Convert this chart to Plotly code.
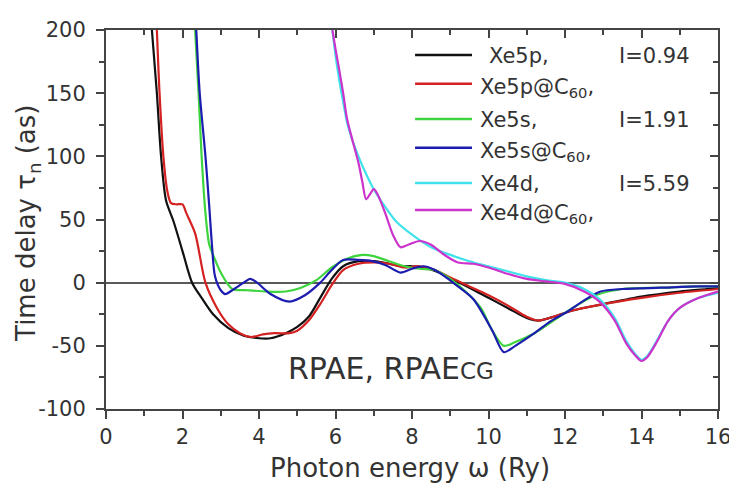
import plotly.graph_objects as go

# ---------------- data ----------------
x_xe5p = [1.2, 1.33, 1.44, 1.57, 1.76, 2.0, 2.25, 2.5, 2.8, 3.2, 3.6, 4.0, 4.3, 4.7, 5.0, 5.3, 5.6, 5.9,
          6.2, 6.6, 7.0, 7.4, 7.7, 8.0, 8.3, 8.7, 9.1, 9.5, 10.0, 10.5, 11.0, 11.3, 11.7, 12.2, 13.0,
          14.0, 15.0, 15.7, 16.0]
y_xe5p = [200, 150, 100, 65, 49, 25, 0, -12, -25, -36, -42, -44, -44, -40, -35, -27, -12, 3,
          13, 17, 17, 15, 13, 13, 12, 8, 2, -4, -12, -20, -28, -30, -27, -22, -17,
          -11, -7, -5, -4]

x_xe5p_c60 = [1.33, 1.4, 1.5, 1.6, 1.7, 1.85, 2.0, 2.1, 2.33, 2.6, 2.9, 3.2, 3.5, 3.8, 4.1, 4.4, 4.8,
              5.0, 5.3, 5.6, 5.9, 6.2, 6.6, 7.0, 7.4, 7.8, 8.2, 8.6, 9.0, 9.5, 10.0, 10.5, 11.0,
              11.3, 11.7, 12.2, 13.0, 14.0, 15.0, 16.0]
y_xe5p_c60 = [200, 150, 100, 73, 63, 62, 62, 55, 39, 0, -20, -33, -40, -43, -41, -40, -40,
              -38, -30, -17, -2, 10, 15, 16, 15, 12, 13, 10, 4, -3, -10, -18, -27,
              -30, -27, -22, -17, -12, -8, -5]

x_xe5s = [2.33, 2.42, 2.5, 2.6, 2.7, 2.8, 3.0, 3.3, 3.7, 4.2, 4.7, 5.1, 5.5, 5.9, 6.3, 6.7, 7.0,
          7.4, 7.8, 8.2, 8.6, 9.0, 9.4, 9.8, 10.1, 10.4, 10.7, 11.2, 11.7, 12.2, 12.8, 13.5,
          14.5, 15.5, 16.0]
y_xe5s = [200, 150, 100, 55, 30, 22, 8, -5, -6, -7, -7, -4, 2, 12, 19, 22, 21,
          17, 13, 11, 10, 3, -7, -20, -38, -50, -47, -40, -30, -20, -10, -5,
          -4, -3, -3]

x_xe5s_c60 = [2.36, 2.45, 2.6, 2.7, 2.77, 2.85, 3.0, 3.12, 3.3, 3.6, 3.77, 3.95, 4.3, 4.8, 5.2, 5.6,
              5.9, 6.2, 6.6, 6.95, 7.3, 7.7, 8.0, 8.3, 8.6, 8.9, 9.2, 9.6, 10.1, 10.4, 10.7,
              11.2, 11.6, 12.06, 12.5, 12.93, 13.5, 14.5, 15.5, 16.0]
y_xe5s_c60 = [200, 150, 100, 60, 30, 5, -6, -9, -6, 0, 3, 0, -9, -15, -10, 0,
              10, 18, 18, 17, 14, 8, 11, 13, 10, 4, -3, -13, -38, -55, -50,
              -40, -31, -23, -14, -7, -5, -4, -3, -3]

x_xe4d = [5.92, 6.0, 6.1, 6.2, 6.3, 6.45, 6.6, 6.8, 7.0, 7.3, 7.6, 8.0, 8.5, 9.0, 9.5, 10.0, 10.5,
          11.0, 11.5, 12.0, 12.5, 12.9, 13.3, 13.6, 13.85, 14.0, 14.15, 14.4, 14.7, 15.0, 15.5, 16.0]
y_xe4d = [200, 180, 160, 143, 127, 112, 100, 86, 74, 60, 48, 38, 28, 22, 17, 13, 9,
          5, 2, 0, -5, -13, -28, -46, -57, -61, -58, -46, -30, -20, -12, -8]

x_xe4d_c60 = [5.92, 6.0, 6.1, 6.2, 6.3, 6.45, 6.6, 6.7, 6.8, 6.9, 7.0, 7.1, 7.3, 7.5, 7.7, 7.9, 8.2,
              8.5, 8.8, 9.2, 9.6, 10.0, 10.5, 11.0, 11.5, 12.0, 12.5, 12.9, 13.3, 13.6, 13.85,
              14.0, 14.15, 14.4, 14.7, 15.0, 15.5, 16.0]
y_xe4d_c60 = [200, 185, 168, 150, 130, 112, 95, 80, 66, 70, 74, 70, 55, 38, 28, 30, 33,
              30, 23, 16, 15, 12, 7, 3, 1, -1, -7, -15, -30, -48, -58,
              -62, -59, -47, -30, -20, -12, -7]

series_names = ["Xe5p,", "Xe5p@C<sub>60</sub>,", "Xe5s,", "Xe5s@C<sub>60</sub>,",
                "Xe4d,", "Xe4d@C<sub>60</sub>,"]
ion_labels = ["I=0.94", "", "I=1.91", "", "I=5.59", ""]
series_x = [x_xe5p, x_xe5p_c60, x_xe5s, x_xe5s_c60, x_xe4d, x_xe4d_c60]
series_y = [y_xe5p, y_xe5p_c60, y_xe5s, y_xe5s_c60, y_xe4d, y_xe4d_c60]
colors = ["#111111", "#d42222", "#3ed43e", "#1c1cb0", "#3fe2ea", "#cc33cc"]

x_ticks = [0, 2, 4, 6, 8, 10, 12, 14, 16]
x_ticktext = ["0", "2", "4", "6", "8", "10", "12", "14", "16"]
y_ticks = [-100, -50, 0, 50, 100, 150, 200]
y_ticktext = ["-100", "-50", "0", "50", "100", "150", "200"]

FONT = "DejaVu Sans"
TXT = "#333333"
AX = "#444444"

fig = go.Figure()
for xs, ys, c in zip(series_x, series_y, colors):
    fig.add_trace(go.Scatter(x=xs, y=ys, mode="lines",
                             line=dict(color=c, width=2.2, shape="spline", smoothing=0.8),
                             showlegend=False, hoverinfo="skip"))

common_x = dict(range=[0, 16], showline=True, linecolor=AX, linewidth=2, automargin=False,
                showgrid=False, zeroline=False, tickcolor=AX, tickwidth=2)
common_y = dict(range=[-100, 200], showline=True, linecolor=AX, linewidth=2, automargin=False,
                showgrid=False, tickcolor=AX, tickwidth=2)

fig.update_layout(
    width=729, height=484, autosize=False,
    margin=dict(l=106, r=11, t=30, b=75),
    paper_bgcolor="white", plot_bgcolor="white",
    font=dict(family=FONT, color=TXT, size=21),
    xaxis=dict(**common_x, tickmode="array", tickvals=x_ticks, ticktext=x_ticktext,
               ticks="outside", ticklen=8, ticklabeloverflow="allow",
               minor=dict(dtick=1, ticks="outside", ticklen=5, tickcolor=AX, tickwidth=2),
               tickfont=dict(size=21, color=TXT, family=FONT)),
    xaxis2=dict(**common_x, overlaying="x", side="top", anchor="y", matches="x",
                ticks="inside", ticklen=8, dtick=2, showticklabels=False,
                minor=dict(dtick=1, ticks="inside", ticklen=5, tickcolor=AX, tickwidth=2)),
    yaxis=dict(**common_y, tickmode="array", tickvals=y_ticks, ticktext=y_ticktext,
               ticks="outside", ticklen=8, ticklabeloverflow="allow", ticklabelstandoff=6,
               zeroline=True, zerolinecolor="#5a5a5a", zerolinewidth=2,
               minor=dict(dtick=25, ticks="outside", ticklen=5, tickcolor=AX, tickwidth=2),
               tickfont=dict(size=21, color=TXT, family=FONT)),
    yaxis2=dict(**common_y, overlaying="y", side="right", anchor="x", matches="y",
                zeroline=False, ticks="inside", ticklen=8, dtick=50, showticklabels=False,
                minor=dict(dtick=25, ticks="inside", ticklen=5, tickcolor=AX, tickwidth=2)),
)

# invisible trace so the mirror axes are drawn
fig.add_trace(go.Scatter(x=[0], y=[0], xaxis="x2", yaxis="y2", mode="markers",
                         marker=dict(opacity=0), showlegend=False, hoverinfo="skip"))

# ---------------- axis titles ----------------
annotations = [
    dict(text="Photon energy ω (Ry)", xref="paper", yref="paper", x=0.497, y=-0.156,
         xanchor="center", yanchor="middle", showarrow=False,
         font=dict(size=26, color=TXT, family=FONT)),
    dict(text="Time delay τ<sub>n</sub> (as)", xref="paper", yref="paper", x=-0.128, y=0.49,
         xanchor="center", yanchor="middle", showarrow=False, textangle=-90,
         font=dict(size=26, color=TXT, family=FONT)),
    dict(text="RPAE, RPAE<span style='font-size:23px'>CG</span>", xref="paper", yref="paper",
         x=0.465, y=0.108, xanchor="center", yanchor="middle", showarrow=False,
         font=dict(size=30, color=TXT, family=FONT)),
]

# ---------------- hand-built legend ----------------
legend_y = [0.934, 0.858, 0.765, 0.689, 0.596, 0.525]
shapes = []
for i, (name, ion, c, ly) in enumerate(zip(series_names, ion_labels, colors, legend_y)):
    shapes.append(dict(type="line", xref="paper", yref="paper", x0=0.505, x1=0.598,
                       y0=ly, y1=ly, line=dict(color=c, width=2.5)))
    has_sub = "<sub>" in name
    annotations.append(dict(text=name, xref="paper", yref="paper",
                            x=0.608 if i else 0.622, y=ly, xanchor="left",
                            yanchor="middle", showarrow=False,
                            yshift=-4 if has_sub else -1,
                            font=dict(size=21, color=TXT, family=FONT)))
    if ion:
        annotations.append(dict(text=ion, xref="paper", yref="paper", x=0.835, y=ly,
                                xanchor="left", yanchor="middle", showarrow=False,
                                yshift=-1, font=dict(size=21, color=TXT, family=FONT)))

fig.update_layout(annotations=annotations, shapes=shapes)

fig.write_html(
    "out.html",
    config={"displayModeBar": False},
    post_script="document.body.style.margin='0px';document.body.style.overflow='hidden';",
)
